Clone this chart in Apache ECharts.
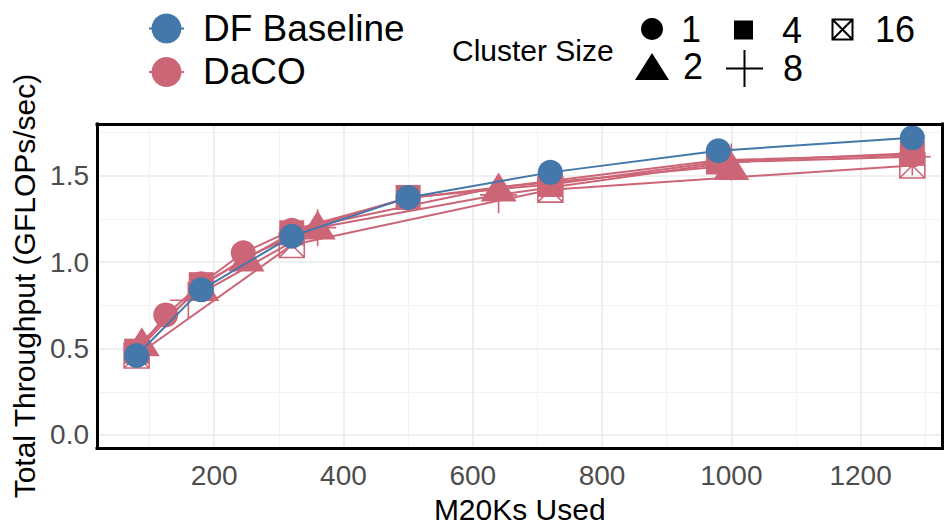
<!DOCTYPE html>
<html><head><meta charset="utf-8">
<script src="https://cdn.jsdelivr.net/npm/echarts@6/dist/echarts.min.js"></script>
<style>html,body{margin:0;padding:0;background:#fff}#c{width:944px;height:529px}</style>
</head><body><div id="c"></div>
<script>
// ---- data ----
const baselineX = [80, 180, 320, 500, 720, 980, 1280];
const baselineY = [0.46, 0.84, 1.15, 1.375, 1.52, 1.645, 1.72];
const daco1X = [80, 125, 180, 245, 320, 500, 720, 980, 1280];
const daco1Y = [0.48, 0.695, 0.875, 1.055, 1.185, 1.37, 1.47, 1.59, 1.62];
const daco2X = [88, 180, 250, 360, 640, 1000];
const daco2Y = [0.54, 0.86, 1.03, 1.215, 1.435, 1.56];
const daco4X = [80, 180, 320, 500, 720, 980, 1280];
const daco4Y = [0.485, 0.87, 1.17, 1.375, 1.45, 1.58, 1.63];
const daco8X = [160, 360, 640, 1000, 1280];
const daco8Y = [0.78, 1.2, 1.39, 1.58, 1.61];
const daco16X = [80, 320, 720, 1280];
const daco16Y = [0.46, 1.10, 1.42, 1.56];
const groupNames = ['DF Baseline', 'DaCO'];
const clusterSizes = ['1', '2', '4', '8', '16'];
const xTitle = 'M20Ks Used';
const yTitle = 'Total Throughput (GFLOPs/sec)';
const legendTitle = 'Cluster Size';

// ---- styling ----
const BLUE = '#4477AA', RED = '#CC6677';
const FONT = '"Liberation Sans", Arial, sans-serif';
const PLUS = 'path://M10,0L10,20M0,10L20,10';
const XBOX = 'path://M0,0L20,0L20,20L0,20ZM0,0L20,20M20,0L0,20';
const pairs = (xs, ys) => xs.map((x, i) => [x, ys[i]]);
const XMIN = 18.7, XMAX = 1326.7, YMIN = -0.076, YMAX = 1.80;

function lineSeries(name, xs, ys, color, symbol, size, hollow, z) {
  return {
    type: 'line', name: name, data: pairs(xs, ys), z: z,
    symbol: symbol, symbolSize: size, showSymbol: true,
    lineStyle: { color: color, width: 2 },
    itemStyle: hollow ? { color: 'rgba(0,0,0,0)', borderColor: color, borderWidth: 1.6 }
                      : { color: color, borderWidth: 0 },
    emphasis: { disabled: true }, animation: false
  };
}
function dummy(name, symbol, hollow) {
  return {
    type: 'line', name: name, data: [], symbol: symbol,
    itemStyle: hollow ? { color: 'rgba(0,0,0,0)', borderColor: '#000', borderWidth: 1.3 }
                      : { color: '#000', borderWidth: 0 },
    lineStyle: { color: '#000' }
  };
}

const series = [
  lineSeries(groupNames[1], daco1X, daco1Y, RED, 'circle', 25, false, 3),
  lineSeries(groupNames[1], daco2X, daco2Y, RED, 'triangle', [36, 29], false, 2),
  lineSeries(groupNames[1], daco4X, daco4Y, RED, 'rect', 25, false, 2),
  lineSeries(groupNames[1], daco8X, daco8Y, RED, PLUS, 37, true, 2),
  lineSeries(groupNames[1], daco16X, daco16Y, RED, XBOX, 25, true, 2),
  lineSeries(groupNames[0], baselineX, baselineY, BLUE, 'circle', 25, false, 4),
  dummy(clusterSizes[0], 'circle', false),
  dummy(clusterSizes[1], 'triangle', false),
  dummy(clusterSizes[2], 'rect', false),
  dummy(clusterSizes[3], PLUS, true),
  dummy(clusterSizes[4], XBOX, true)
];

function shapeLegend(name, icon, left, top, w, h, pad) {
  return {
    data: [{ name: name, icon: icon }], left: left, top: top, padding: 0,
    itemWidth: w, itemHeight: h, selectedMode: false,
    textStyle: { fontSize: 36, lineHeight: 36, color: '#000', fontFamily: FONT, padding: [0, 0, 0, pad] }
  };
}

const hiddenAxisBits = {
  axisTick: { show: false }, axisLabel: { show: false },
  splitLine: { show: false }, minorSplitLine: { show: false }
};
const borderLine = { show: true, onZero: false, lineStyle: { color: '#000', width: 3, cap: 'square' } };

const option = {
  animation: false,
  backgroundColor: '#fff',
  textStyle: { fontFamily: FONT },
  title: {
    text: legendTitle, left: 452, top: 35, padding: 0,
    textStyle: { fontSize: 30, fontWeight: 'normal', color: '#000', fontFamily: FONT, lineHeight: 30 }
  },
  legend: [
    {
      data: groupNames, orient: 'vertical', left: 148, top: 9.5, padding: 0,
      itemWidth: 35, itemHeight: 37.5, itemGap: 5.4, selectedMode: false,
      textStyle: { fontSize: 37, lineHeight: 38, color: '#000', fontFamily: FONT, padding: [0, 0, 0, 14] }
    },
    shapeLegend(clusterSizes[0], 'circle', 641, 11, 22, 22, 13),
    shapeLegend(clusterSizes[2], 'rect', 734, 12, 19, 19, 24),
    shapeLegend(clusterSizes[4], XBOX, 831.5, 11.5, 20, 20, 17.5),
    shapeLegend(clusterSizes[1], 'triangle', 635, 48.5, 34, 27, 9),
    shapeLegend(clusterSizes[3], PLUS, 725, 49, 37, 38, 15)
  ],
  grid: {
    left: 97, right: 1.5, top: 124, bottom: 76, containLabel: false, show: false
  },
  xAxis: [{
    type: 'value', min: XMIN, max: XMAX, splitNumber: 7, position: 'bottom',
    name: xTitle, nameLocation: 'middle', nameGap: 41,
    nameTextStyle: { fontSize: 30, color: '#000', fontFamily: FONT },
    axisLine: borderLine, axisTick: { show: false },
    axisLabel: { fontSize: 28, color: '#4D4D4D', margin: 13, showMinLabel: false, showMaxLabel: false,
      fontFamily: FONT, formatter: v => String(v) },
    splitLine: { show: true, lineStyle: { color: '#EBEBEB', width: 1.7 } },
    minorTick: { show: false, splitNumber: 2 },
    minorSplitLine: { show: true, lineStyle: { color: '#F2F2F2', width: 1 } },
    z: 1
  }, Object.assign({
    type: 'value', min: XMIN, max: XMAX, position: 'top', axisLine: borderLine, z: 5
  }, hiddenAxisBits)],
  yAxis: [{
    type: 'value', min: YMIN, max: YMAX, splitNumber: 4, position: 'left',
    name: yTitle, nameLocation: 'middle', nameGap: 56, nameRotate: 90,
    nameTextStyle: { fontSize: 30, color: '#000', fontFamily: FONT },
    axisLine: borderLine, axisTick: { show: false },
    axisLabel: { fontSize: 28, color: '#4D4D4D', margin: 8, showMinLabel: false, showMaxLabel: false,
      fontFamily: FONT, formatter: v => v.toFixed(1) },
    splitLine: { show: true, lineStyle: { color: '#EBEBEB', width: 1.7 } },
    minorTick: { show: false, splitNumber: 2 },
    minorSplitLine: { show: true, lineStyle: { color: '#F2F2F2', width: 1 } },
    z: 1
  }, Object.assign({
    type: 'value', min: YMIN, max: YMAX, position: 'right', axisLine: borderLine, z: 5
  }, hiddenAxisBits)],
  series: series
};

const chart = echarts.init(document.getElementById('c'), null, { renderer: 'svg' });
chart.setOption(option);
</script>
</body></html>
